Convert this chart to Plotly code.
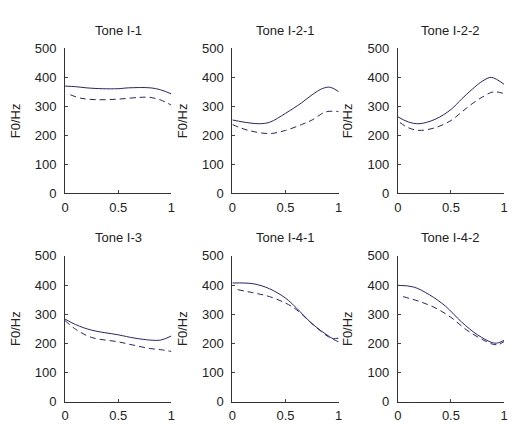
import plotly.graph_objects as go

titles = ["Tone I-1", "Tone I-2-1", "Tone I-2-2", "Tone I-3", "Tone I-4-1", "Tone I-4-2"]

# solid curves
s1_x = [0, 0.1, 0.2, 0.35, 0.5, 0.6, 0.8, 0.9, 1.0]
s1_y = [370, 368, 364, 361, 361, 364, 364, 357, 343]
d1_x = [0.05, 0.15, 0.3, 0.5, 0.7, 0.8, 0.9, 1.0]
d1_y = [340, 328, 323, 325, 331, 331, 322, 304]

s2_x = [0, 0.1, 0.25, 0.35, 0.5, 0.65, 0.75, 0.85, 0.92, 1.0]
s2_y = [253, 246, 240, 245, 276, 312, 340, 362, 366, 351]
d2_x = [0, 0.15, 0.35, 0.5, 0.65, 0.75, 0.88, 1.0]
d2_y = [237, 217, 206, 217, 237, 253, 281, 282]

s3_x = [0, 0.1, 0.2, 0.35, 0.5, 0.6, 0.7, 0.8, 0.88, 1.0]
s3_y = [264, 246, 240, 255, 289, 325, 359, 388, 400, 376]
d3_x = [0.02, 0.1, 0.2, 0.35, 0.5, 0.6, 0.7, 0.8, 0.9, 1.0]
d3_y = [244, 226, 217, 226, 251, 280, 309, 333, 350, 344]

s4_x = [0, 0.1, 0.25, 0.5, 0.65, 0.8, 0.9, 1.0]
s4_y = [283, 264, 245, 229, 218, 211, 211, 225]
d4_x = [0, 0.1, 0.25, 0.5, 0.65, 0.8, 0.9, 1.0]
d4_y = [278, 248, 220, 205, 193, 182, 178, 172]

s5_x = [0, 0.2, 0.35, 0.5, 0.6, 0.75, 0.9, 0.95, 1.0]
s5_y = [407, 404, 387, 355, 322, 267, 226, 216, 218]
d5_x = [0.05, 0.2, 0.35, 0.5, 0.6, 0.75, 0.9, 1.0]
d5_y = [384, 373, 360, 338, 316, 267, 223, 205]

s6_x = [0, 0.15, 0.3, 0.45, 0.6, 0.75, 0.9, 0.95, 1.0]
s6_y = [399, 393, 366, 327, 273, 229, 201, 202, 210]
d6_x = [0.05, 0.2, 0.35, 0.5, 0.65, 0.8, 0.9, 0.95, 1.0]
d6_y = [360, 344, 322, 289, 245, 212, 196, 196, 206]

solid = [(s1_x, s1_y), (s2_x, s2_y), (s3_x, s3_y), (s4_x, s4_y), (s5_x, s5_y), (s6_x, s6_y)]
dashed = [(d1_x, d1_y), (d2_x, d2_y), (d3_x, d3_y), (d4_x, d4_y), (d5_x, d5_y), (d6_x, d6_y)]

x_ticks = [0, 0.5, 1]
x_ticklabels = ["0", "0.5", "1"]
y_ticks = [0, 100, 200, 300, 400, 500]

W, H = 513, 424
col_px = [(62, 170), (232, 340), (400, 508)]
row_px = [(43, 193), (258, 409)]

FONT = "Liberation Sans, Arial, sans-serif"
LC = "#23237a"
FS = 13

fig = go.Figure()
layout = dict(width=W, height=H, margin=dict(l=0, r=0, t=0, b=0),
              paper_bgcolor="white", plot_bgcolor="white", showlegend=False,
              font=dict(family=FONT, size=FS, color="#222222"))
annotations = []
for i in range(6):
    r, c = divmod(i, 3)
    n = "" if i == 0 else str(i + 1)
    xa, ya = "x" + n, "y" + n
    x0, x1 = col_px[c]
    y0, y1 = row_px[r]
    xd = [x0 / W, x1 / W]
    yd = [1 - y1 / H, 1 - y0 / H]
    layout["xaxis" + n] = dict(domain=xd, anchor=ya, range=[0, 1], tickvals=x_ticks,
                               ticktext=x_ticklabels, ticks="inside", ticklen=3,
                               showline=True, linecolor="#333333", linewidth=1,
                               showgrid=False, zeroline=False, tickfont=dict(size=FS),
                               ticklabelstandoff=2, ticklabeloverflow="allow")
    layout["yaxis" + n] = dict(domain=yd, anchor=xa, range=[0, 500], tickvals=y_ticks,
                               ticks="inside", ticklen=3, showline=True, linecolor="#333333",
                               linewidth=1, showgrid=False, zeroline=False,
                               tickfont=dict(size=FS), ticklabelstandoff=5,
                               title=dict(text="F0/Hz", standoff=11, font=dict(size=FS)))
    sx, sy = solid[i]
    dx, dy = dashed[i]
    fig.add_trace(go.Scatter(x=sx, y=sy, mode="lines", line=dict(color=LC, width=1, shape="spline"),
                             xaxis=xa, yaxis=ya))
    fig.add_trace(go.Scatter(x=dx, y=dy, mode="lines", line=dict(color=LC, width=1, dash="6px,4px", shape="spline"),
                             xaxis=xa, yaxis=ya))
    annotations.append(dict(text=titles[i], x=(xd[0] + xd[1]) / 2, y=1 - (y0 - 9) / H,
                            xref="paper", yref="paper", xanchor="center", yanchor="bottom",
                            showarrow=False, font=dict(size=FS)))
layout["annotations"] = annotations
fig.update_layout(**layout)
fig.write_html("out.html", config={"displayModeBar": False},
               post_script="document.body.style.margin='0';document.body.style.overflow='hidden';")
